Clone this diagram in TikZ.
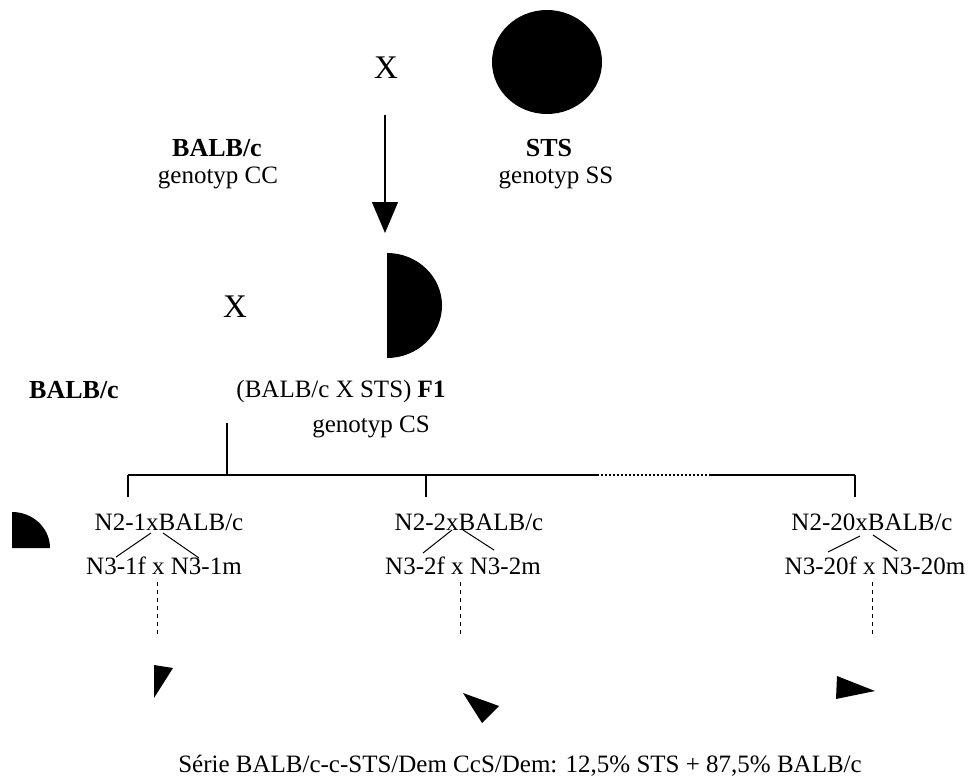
\documentclass[tikz,border=0pt]{standalone}
\usepackage{fontspec}
\setmainfont{Liberation Serif}
\usetikzlibrary{arrows.meta}
\tikzset{
  lbl/.style={inner sep=0pt, anchor=base, font=\fontsize{25}{28}\selectfont},
  blbl/.style={inner sep=0pt, anchor=base, font=\fontsize{26}{28}\selectfont\bfseries},
  bigx/.style={inner sep=0pt, anchor=base, font=\fontsize{33}{36}\selectfont},
  blk/.style={fill=black, draw=none},
  tree/.style={line width=1.2pt},
  branch/.style={line width=1pt},
  dsh/.style={line width=1pt, dash pattern=on 4pt off 4pt},
  dotl/.style={line width=1.2pt, dash pattern=on 2pt off 2pt},
}
\begin{document}
\begin{tikzpicture}[x=1pt,y=-1pt]
\useasboundingbox (0,0) rectangle (972,784);
% top generation
\node[bigx] (x1) at (386,78) {X};
\fill[blk] (547,62) ellipse [x radius=55pt, y radius=52pt];
\node[blbl] (balb1) at (217,156) {BALB/c};
\node[lbl] (gcc) at (218,183) {genotyp CC};
\node[blbl] (sts) at (549,156) {STS};
\node[lbl] (gss) at (556,183) {genotyp SS};
\coordinate (arrS) at (385,115);
\coordinate (arrE) at (385,233);
\draw[line width=1.2pt, -{Triangle[length=31pt,width=26pt]}] (arrS) -- (arrE);
% F1 generation
\node[bigx] (x2) at (235,317) {X};
\fill[blk] (387,253) arc[start angle=90, end angle=-90, x radius=55pt, y radius=52.5pt] -- cycle;
\node[blbl] (balb2) at (74,398) {BALB/c};
\node[lbl] (f1) at (341,397) {(BALB/c X STS) \textbf{F1}};
\node[lbl] (gcs) at (371,432) {genotyp CS};
% tree
\coordinate (t0) at (227,423);
\coordinate (tj) at (227,475);
\coordinate (hL) at (128,475);
\coordinate (h2) at (426,475);
\coordinate (dA) at (597,475);
\coordinate (dB) at (709,475);
\coordinate (hR) at (855,475);
\coordinate (bL) at (128,497);
\coordinate (b2) at (426,497);
\coordinate (bR) at (855,497);
\draw[tree] (t0) -- (tj);
\draw[tree] (hL) -- (dA);
\draw[dotl] (dA) -- (dB);
\draw[tree] (dB) -- (hR);
\draw[tree] (hL) -- (bL);
\draw[tree] (h2) -- (b2);
\draw[tree] (hR) -- (bR);
% quarter disk
\fill[blk] (12,548) -- (12,512) arc[start angle=90, end angle=0, x radius=38pt, y radius=36pt] -- cycle;
% N2 labels
\node[lbl] (n21) at (169,530) {N2-1xBALB/c};
\node[lbl] (n22) at (469,530) {N2-2xBALB/c};
\node[lbl] (n220) at (872,530) {N2-20xBALB/c};
% N3 labels
\node[lbl] (n31) at (164,574) {N3-1f x N3-1m};
\node[lbl] (n32) at (463,574) {N3-2f x N3-2m};
\node[lbl] (n320) at (875,574) {N3-20f x N3-20m};
% branches
\coordinate (a1) at (151,533); \coordinate (a1e) at (116,557);
\coordinate (b1) at (163,533); \coordinate (b1e) at (199,558);
\coordinate (a2) at (452,530); \coordinate (a2e) at (423,553);
\coordinate (b2b) at (463,530); \coordinate (b2e) at (494,550);
\coordinate (a3) at (860,536); \coordinate (a3e) at (828,552);
\coordinate (b3) at (873,535); \coordinate (b3e) at (897,551);
\draw[branch] (a1) -- (a1e); \draw[branch] (b1) -- (b1e);
\draw[branch] (a2) -- (a2e); \draw[branch] (b2b) -- (b2e);
\draw[branch] (a3) -- (a3e); \draw[branch] (b3) -- (b3e);
% dashed descenders
\coordinate (d1s) at (157,582); \coordinate (d1e) at (157,634);
\coordinate (d2s) at (460,582); \coordinate (d2e) at (460,634);
\coordinate (d3s) at (872,582); \coordinate (d3e) at (872,634);
\draw[dsh] (d1s) -- (d1e);
\draw[dsh] (d2s) -- (d2e);
\draw[dsh] (d3s) -- (d3e);
% small wedges
\fill[blk] (154,665) -- (173,668) -- (154,698) -- cycle;
\fill[blk] (463,693) -- (499,706) -- (482,723) -- cycle;
\fill[blk] (837,676) -- (875,691) -- (836,699) -- cycle;
% caption
\node[lbl] (cap) at (520,772) {Série BALB/c-c-STS/Dem CcS/Dem: 12,5\% STS + 87,5\% BALB/c};
\end{tikzpicture}
\end{document}
